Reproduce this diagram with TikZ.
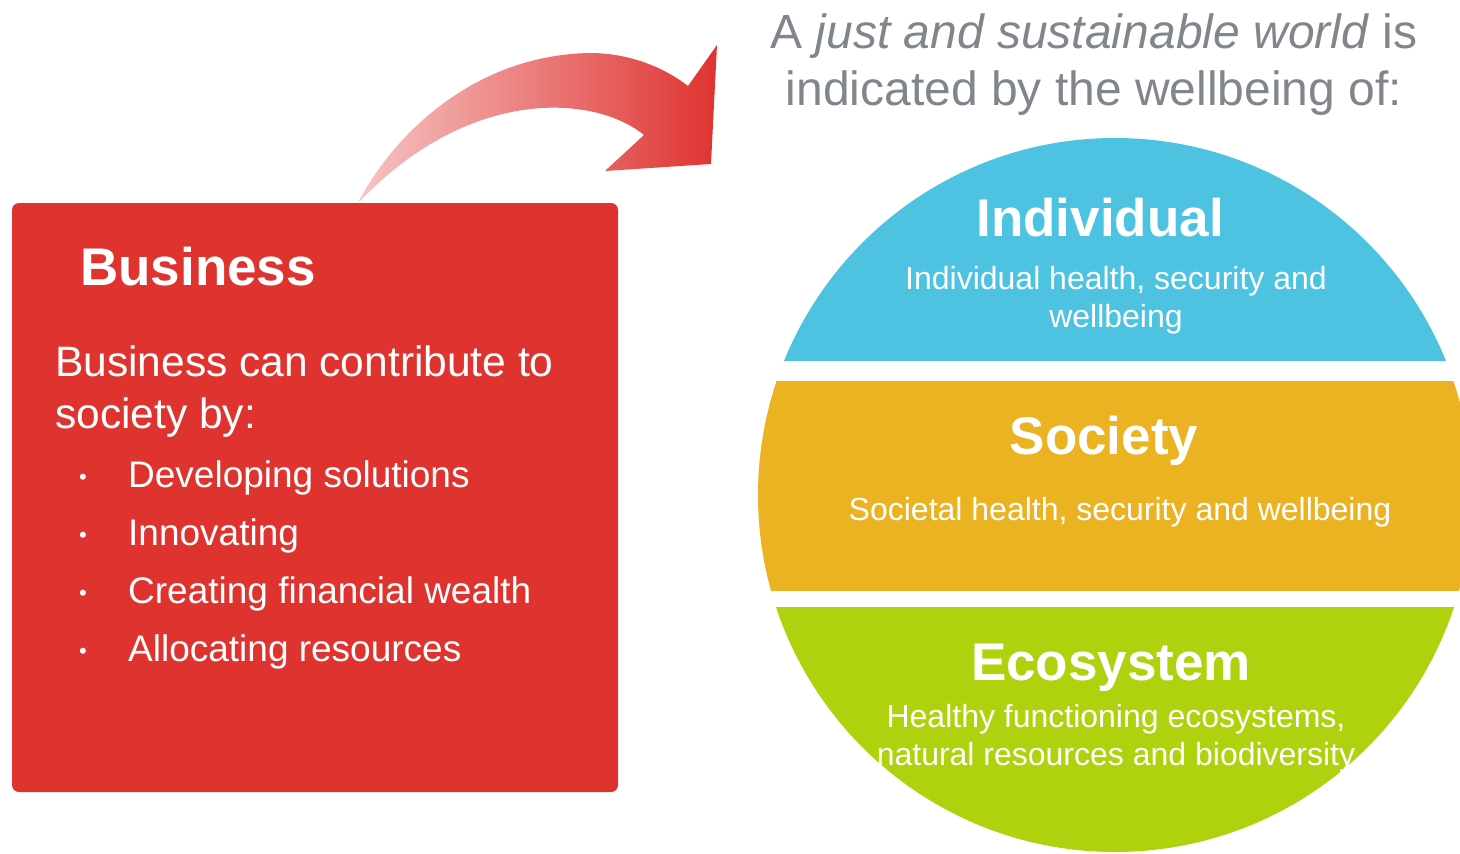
\documentclass[tikz,border=0pt]{standalone}
\usepackage{fontspec}
\setmainfont{Liberation Sans}
\usetikzlibrary{positioning}
\definecolor{bizred}{RGB}{223,51,48}
\definecolor{arrowpink}{RGB}{246,196,196}
\definecolor{indblue}{RGB}{78,195,225}
\definecolor{socorange}{RGB}{235,178,34}
\definecolor{ecogreen}{RGB}{175,210,15}
\definecolor{titlegray}{RGB}{128,134,140}
\newcommand{\fsize}[2]{\fontsize{#1}{#2}\selectfont}

\begin{document}
\begin{tikzpicture}[x=1pt,y=-1pt,
  heading/.style={text=white,font=\fsize{53}{60}\bfseries,inner sep=0pt,anchor=base},
  bodytext/.style={text=white,font=\fsize{42.5}{52},inner sep=0pt,anchor=base west},
  itemtext/.style={text=white,font=\fsize{37}{44},inner sep=0pt,anchor=base west},
  itemdot/.style={text=white,font=\fsize{22}{22},inner sep=0pt,anchor=base},
  bandtext/.style={text=white,font=\fsize{32}{38},inner sep=0pt,anchor=base,align=center}
]
\useasboundingbox (0,0) rectangle (1460,854);

% business box
\fill[bizred,rounded corners=7pt] (12,203) rectangle (618,792);
\node[heading,anchor=base west] (biz) at (80,285) {Business};
\node[bodytext] (bizline1) at (55,376) {Business can contribute to};
\node[bodytext] (bizline2) at (55,428) {society by:};
\node[itemdot] (dot1) at (83,484) {•};
\node[itemtext] (item1) at (128,487) {Developing solutions};
\node[itemdot] (dot2) at (83,542) {•};
\node[itemtext] (item2) at (128,545) {Innovating};
\node[itemdot] (dot3) at (83,600) {•};
\node[itemtext] (item3) at (128,603) {Creating financial wealth};
\node[itemdot] (dot4) at (83,658) {•};
\node[itemtext] (item4) at (128,661) {Allocating resources};

% curved arrow
\shade[left color=arrowpink,right color=bizred]
  (358,203) .. controls (390,140) and (470,55) .. (590,53)
  .. controls (630,53) and (665,68) .. (688,86)
  -- (717,45) -- (711,164) -- (605,171) -- (644,135)
  .. controls (595,95) and (470,85) .. (358,203) -- cycle;

% title (base anchor sits on the last line)
\node[text=titlegray,font=\fsize{48}{57},inner sep=0pt,anchor=base,align=center] (title) at (1094,105)
  {A \textit{just and sustainable world} is\\indicated by the wellbeing of:};

% wellbeing circle
\begin{scope}
  \clip (1115,495) circle (357);
  \fill[indblue] (740,120) rectangle (1480,361);
  \fill[socorange] (740,381) rectangle (1480,591);
  \fill[ecogreen] (740,607) rectangle (1480,870);
\end{scope}
\node[heading] (ind) at (1100,236) {Individual};
\node[bandtext] (indtext) at (1116,327) {Individual health, security and\\wellbeing};
\node[heading] (soc) at (1104,454) {Society};
\node[bandtext] (soctext) at (1120,520) {Societal health, security and wellbeing};
\node[heading] (eco) at (1111,680) {Ecosystem};
\node[bandtext] (ecotext) at (1116,765) {Healthy functioning ecosystems,\\natural resources and biodiversity};
\end{tikzpicture}
\end{document}
